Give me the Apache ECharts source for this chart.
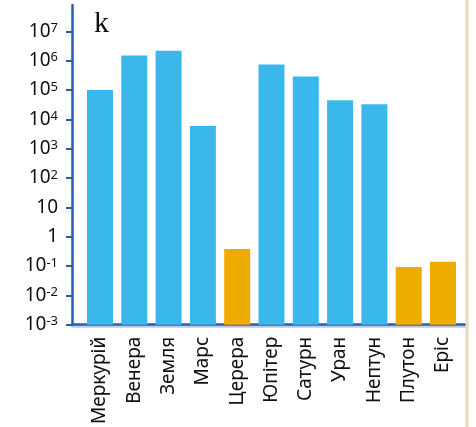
<!DOCTYPE html>
<html><head><meta charset="utf-8">
<script src="https://cdn.jsdelivr.net/npm/echarts@6/dist/echarts.min.js"></script>
<style>html,body{margin:0;padding:0;background:#fff}#c{width:476px;height:427px}</style>
</head><body><div id="c"></div>
<script>
const categories = ['Меркурій','Венера','Земля','Марс','Церера','Юпітер','Сатурн','Уран','Нептун','Плутон','Еріс'];
const values = [1.0e5, 1.5e6, 2.2e6, 6.0e3, 0.38, 7.5e5, 2.9e5, 4.5e4, 3.3e4, 0.093, 0.14];
const dwarf = [false,false,false,false,true,false,false,false,false,true,true];
const yTicks = [1e-3,1e-2,1e-1,1,10,1e2,1e3,1e4,1e5,1e6,1e7];
const titleText = 'k';

const BLUE = '#3bb8eb', ORANGE = '#eeab00', AXIS = '#2d5ea9';
const chart = echarts.init(document.getElementById('c'), null, {renderer:'canvas'});
chart.setOption({
  animation: false,
  title: {text: titleText, left: 89, top: 4,
    textStyle: {fontFamily: 'Liberation Serif', fontSize: 30, fontWeight: 'normal', color: '#111'}},
  grid: {left: 72, right: 9, top: 5, bottom: 99},
  xAxis: {
    type: 'value', min: -0.816, max: 10.70,
    splitLine: {show: false},
    axisTick: {show: false},
    axisLine: {onZero: false, lineStyle: {color: AXIS, width: 2.5, shadowColor: 'rgba(45,94,169,0.35)', shadowOffsetY: 2, shadowBlur: 1}},
    axisLabel: {
      customValues: categories.map((_, i) => i),
      formatter: v => categories[Math.round(v)] || '',
      rotate: 90, margin: 12, fontSize: 19, fontFamily: 'Noto Sans', color: '#111'
    }
  },
  yAxis: {
    type: 'log', logBase: 10, min: 1e-3, max: 7.94e7, startValue: 1e-3,
    splitLine: {show: false},
    axisLine: {onZero: false, lineStyle: {color: AXIS, width: 2.5}},
    axisTick: {customValues: yTicks, length: 6, lineStyle: {color: AXIS, width: 2}},
    axisLabel: {
      customValues: yTicks, margin: 14, color: '#111', fontFamily: 'Noto Sans', fontSize: 19,
      formatter: v => {
        const e = Math.round(Math.log10(v));
        if (e === 0) return '1';
        if (e === 1) return '10';
        return '{b|10}{s|' + (e < 0 ? '-' + (-e) : e) + '}';
      },
      rich: {
        b: {fontSize: 19, fontFamily: 'Noto Sans', color: '#111'},
        s: {fontSize: 13, fontFamily: 'Noto Sans', color: '#111', verticalAlign: 'top'}
      }
    }
  },
  graphic: [{type: 'rect', shape: {x: 465.5, y: 0, width: 3, height: 427}, style: {fill: '#e9dab8'}, z: 100}],
  series: [{
    type: 'bar', barWidth: 26,
    data: values.map((v, i) => [i, v]),
    itemStyle: {color: p => dwarf[p.dataIndex] ? ORANGE : BLUE}
  }]
});
</script></body></html>
